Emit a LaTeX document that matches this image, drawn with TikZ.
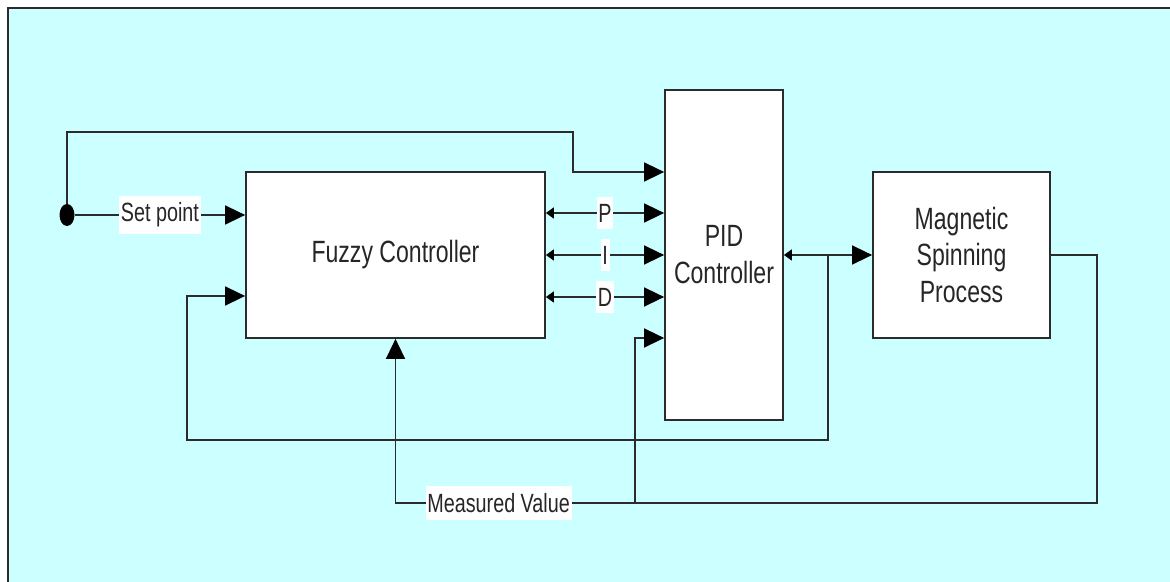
\documentclass[tikz,border=0pt]{standalone}
\usepackage{fontspec}
\setmainfont[FakeStretch=0.75]{Liberation Sans}
\usetikzlibrary{positioning, arrows.meta, shapes.geometric}
\definecolor{bgcyan}{HTML}{CCFFFF}
\definecolor{linegray}{HTML}{2B2B2B}
\tikzset{
  blk/.style={draw=linegray, fill=white, line width=1pt, align=center,
    font=\fontsize{17.5}{21}\selectfont, text=black!85},
  lbl/.style={fill=white, inner xsep=1pt, inner ysep=4pt, font=\fontsize{15}{18}\selectfont, text=black!85},
  wire/.style={draw=linegray, line width=0.9pt},
  big/.style={-{Triangle[length=0.4cm,width=0.38cm,fill=black,color=black]}},
  dbl/.style={{Triangle[length=0.16cm,width=0.22cm,fill=black,color=black]}-{Triangle[length=0.4cm,width=0.38cm,fill=black,color=black]}}}

\begin{document}
\begin{tikzpicture}
\useasboundingbox (0,0) rectangle (23.4,11.64);
\fill[bgcyan] (0.16,0) rectangle (23.4,11.48);
\draw[linegray, line width=1.2pt] (0.16,0) -- (0.16,11.48) -- (23.4,11.48);
% blocks
\node[blk, minimum width=5.98cm, minimum height=3.32cm] (fuzzy) at (7.91,6.54) {Fuzzy Controller};
\node[blk, minimum width=2.36cm, minimum height=6.6cm] (pid) at (14.48,6.54) {PID\\Controller};
\node[blk, minimum width=3.54cm, minimum height=3.32cm] (proc) at (19.23,6.54) {Magnetic\\Spinning\\Process};
\node[ellipse, fill=black, inner sep=0pt, minimum width=0.3cm, minimum height=0.44cm] (sp) at (1.34,7.34) {};
% helper points
\foreach \n/\dy in {a/1.66, p/0.84, i/0, d/-0.84, e/-1.66}
  \coordinate (in\n) at ([yshift=\dy cm]pid.west);
\coordinate (jog) at (11.46,9.0);
\coordinate (br) at (16.56,6.54);
\coordinate (fb) at (3.74,2.84);
\coordinate (mc) at (21.94,1.58);
\coordinate (mb) at (12.7,1.58);
% connections
\draw[wire, big] (sp.east) -- node[lbl]{Set point} (sp -| fuzzy.west);
\draw[wire, big] (sp.north) |- (jog) |- (ina);
\foreach \n/\t in {p/P, i/I, d/D}
  \draw[wire, dbl] (fuzzy.east |- in\n) -- node[lbl]{\t} (in\n);
\draw[wire, dbl] (pid.east) -- (proc.west);
\draw[wire, big] (br) |- (fb) |- ([yshift=-0.82cm]fuzzy.west);
\draw[wire, big] (proc.east) -| (mc) -- node[lbl, pos=0.853]{Measured Value} (mc -| fuzzy.south) -- (fuzzy.south);
\draw[wire, big] (mb) |- (ine);
\end{tikzpicture}
\end{document}
